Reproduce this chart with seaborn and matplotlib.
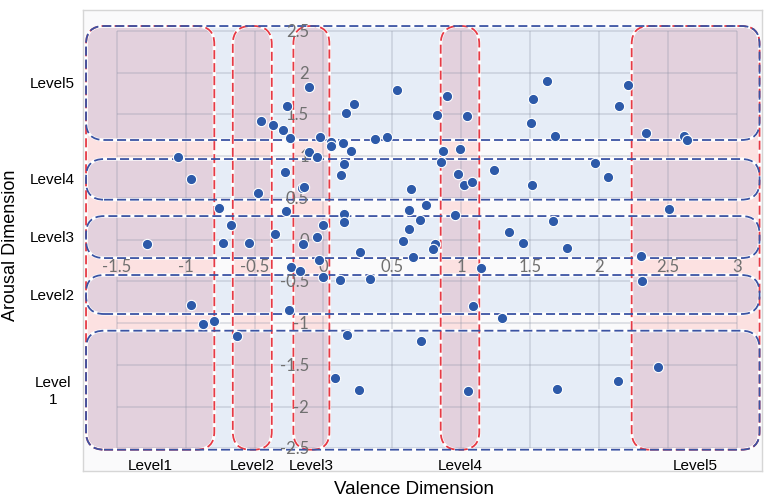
import matplotlib
matplotlib.use("Agg")
import matplotlib.pyplot as plt
from matplotlib.patches import FancyBboxPatch
import seaborn as sns

# ---------------- data ----------------
valence = [-0.107, -0.267, -0.451, -0.363, -0.291, -0.242, -0.107, -0.049, -0.027, 0.053,
           0.053, 0.145, 0.200, 0.151, 0.129, 0.166, 0.225, 0.536, 0.374, 0.463,
           -1.053, -0.963, -0.281, -0.472, -0.157, -0.138, 0.633, -0.755, -0.274, 0.149,
           0.149, -0.668, 0.000, -0.354, -0.049, -0.731, -0.540, -1.278, -0.146, 0.266,
           0.623, 0.745, 0.701, 0.623, 0.575, 0.897, 0.824, 1.042, 0.870, 0.991,
           0.856, 0.977, 1.018, 1.081, 1.240, 1.514, 0.955, 1.668, 1.344, 1.450,
           1.770, 0.810, 0.797, 1.620, 1.523, 1.506, 1.683, 2.212, 2.147, 2.339,
           2.619, 2.636, 1.973, 2.068, 2.510, 2.307, -0.235, -0.170, -0.029, 0.000,
           0.118, 0.336, 0.648, -0.963, -0.876, -0.796, -0.250, -0.627, 0.173, 0.710,
           0.086, 0.256, 1.144, 2.310, 1.088, 1.298, 2.426, 1.047, 1.697, 2.138]
arousal = [1.823, 1.595, 1.415, 1.371, 1.307, 1.216, 1.052, 0.985, 1.232, 1.172,
           1.124, 1.160, 1.064, 0.908, 0.776, 1.518, 1.626, 1.790, 1.201, 1.232,
           0.984, 0.728, 0.808, 0.560, 0.613, 0.625, 0.608, 0.381, 0.338, 0.305,
           0.213, 0.170, 0.170, 0.066, 0.034, -0.042, -0.042, -0.058, -0.054, -0.144,
           0.353, 0.413, 0.234, 0.126, -0.014, 1.719, 1.491, 1.475, 1.064, 1.080,
           0.928, 0.788, 0.656, 0.685, 0.836, 0.656, 0.293, 0.217, 0.096, -0.042,
           -0.102, -0.054, -0.114, 1.902, 1.686, 1.395, 1.244, 1.854, 1.595, 1.275,
           1.236, 1.195, 0.912, 0.745, 0.365, -0.193, -0.333, -0.373, -0.241, -0.453,
           -0.485, -0.473, -0.206, -0.781, -1.016, -0.980, -0.840, -1.152, -1.140, -1.212,
           -1.662, -1.802, -0.345, -0.501, -0.800, -0.940, -1.530, -1.818, -1.790, -1.698]

x_ticks = [-1.5, -1, -0.5, 0, 0.5, 1, 1.5, 2, 2.5, 3]
x_tick_labels = ["-1.5", "-1", "-0.5", "0", "0.5", "1", "1.5", "2", "2.5", "3"]
y_ticks = [2.5, 2, 1.5, 1, 0.5, 0, -0.5, -1, -1.5, -2, -2.5]
y_tick_labels = ["2.5", "2", "1.5", "1", "0.5", "0", "-0.5", "-1", "-1.5", "-2", "-2.5"]

valence_levels = ["Level1", "Level2", "Level3", "Level4", "Level5"]
valence_bounds = [(-1.723, -0.792), (-0.658, -0.375), (-0.218, 0.043), (0.851, 1.131), (2.237, 3.165)]
arousal_levels = ["Level5", "Level4", "Level3", "Level2", "Level\n1"]
arousal_bounds = [(1.192, 2.557), (0.477, 0.964), (-0.222, 0.281), (-0.892, -0.425), (-2.517, -1.092)]
band_x_extent = (-1.723, 3.165)
band_y_extent = (-2.517, 2.557)

# ---------------- style ----------------
C_BLUE_FILL = "#e6edf7"
C_PINK_FILL = "#fce1e1"
C_MAUVE = "#e3d1dd"
C_RED = "#e63a45"
C_NAVY = "#3b53a3"
C_DOT = "#2d5aa9"
C_TICK = "#707070"

FIG_W, FIG_H = 7.65, 5.02
fig = plt.figure(figsize=(FIG_W, FIG_H), dpi=100)
fig.patch.set_facecolor("white")
pos = [0.1085, 0.0598, 0.8876, 0.9183]
ax = fig.add_axes(pos)
xlim = (-1.745, 3.183)
ylim = (-2.772, 2.749)
ax.set_xlim(*xlim)
ax.set_ylim(*ylim)
ax.set_facecolor("#fafafb")
for s in ax.spines.values():
    s.set_color("#d6d6d6")
    s.set_linewidth(1.0)
ax.set_xticks([])
ax.set_yticks([])

sx = pos[2] * FIG_W * 100 / (xlim[1] - xlim[0])
sy = pos[3] * FIG_H * 100 / (ylim[1] - ylim[0])
aspect = sx / sy
RADIUS_PX = 18


def rbox(x0, x1, y0, y1, **kw):
    w, h = x1 - x0, y1 - y0
    r_px = min(RADIUS_PX, w * sx / 2 - 0.5, h * sy / 2 - 0.5)
    r = r_px / sx
    return FancyBboxPatch((x0, y0), w, h,
                          boxstyle=f"round,pad=0,rounding_size={r}",
                          mutation_aspect=aspect, transform=ax.transData, **kw)


# fills
for (y0, y1) in arousal_bounds:
    ax.add_patch(rbox(band_x_extent[0], band_x_extent[1], y0, y1,
                      facecolor=C_BLUE_FILL, edgecolor="none", zorder=1.0))
for (x0, x1) in valence_bounds:
    ax.add_patch(rbox(x0, x1, band_y_extent[0], band_y_extent[1],
                      facecolor=C_PINK_FILL, edgecolor="none", zorder=1.1))
for (x0, x1) in valence_bounds:
    for (y0, y1) in arousal_bounds:
        clip = rbox(band_x_extent[0], band_x_extent[1], y0, y1)
        p = rbox(x0, x1, band_y_extent[0], band_y_extent[1],
                 facecolor=C_MAUVE, edgecolor="none", zorder=1.2)
        ax.add_patch(p)
        p.set_clip_path(clip)

# grid
ax.vlines(x_ticks, min(y_ticks), max(y_ticks), colors="#8e94a6", alpha=0.3, lw=1.2, zorder=1.5)
ax.hlines(y_ticks, min(x_ticks), max(x_ticks), colors="#8e94a6", alpha=0.3, lw=1.2, zorder=1.5)

# outlines
DASH = (0, (5.0, 2.2))
for (y0, y1) in arousal_bounds:
    ax.add_patch(rbox(band_x_extent[0], band_x_extent[1], y0, y1,
                      fill=False, edgecolor="white", lw=2.3, zorder=2.0))
    ax.add_patch(rbox(band_x_extent[0], band_x_extent[1], y0, y1,
                      fill=False, edgecolor=C_NAVY, lw=1.3, linestyle=DASH, zorder=2.2))
for (x0, x1) in valence_bounds:
    ax.add_patch(rbox(x0, x1, band_y_extent[0], band_y_extent[1],
                      fill=False, edgecolor="white", lw=2.3, zorder=2.0))
    ax.add_patch(rbox(x0, x1, band_y_extent[0], band_y_extent[1],
                      fill=False, edgecolor=C_RED, lw=1.3, linestyle=DASH, zorder=2.1))

# in-plot tick labels
for xv, lab in zip(x_ticks, x_tick_labels):
    ax.text(xv, -0.317, lab, ha="center", va="center", fontsize=12,
            color=C_TICK, family=["Lato", "DejaVu Sans"], zorder=2.5)
for yv, lab in zip(y_ticks, y_tick_labels):
    ax.text(-0.105, yv, lab, ha="right", va="center", fontsize=12,
            color=C_TICK, family=["Lato", "DejaVu Sans"], zorder=2.5)

# scatter
sns.scatterplot(x=valence, y=arousal, ax=ax, color=C_DOT, s=55,
                edgecolor="white", linewidth=0.8, zorder=3, legend=False)
ax.set_xlabel("")
ax.set_ylabel("")
ax.set_xlim(*xlim)
ax.set_ylim(*ylim)

# level labels
for lab, (y0, y1) in zip(arousal_levels, arousal_bounds):
    ax.text(-1.965, (y0 + y1) / 2, lab, ha="center", va="center", multialignment="center",
            fontsize=11, color="black", family=["Liberation Sans", "DejaVu Sans"],
            linespacing=1.25, clip_on=False)
for lab, (x0, x1) in zip(valence_levels, valence_bounds):
    ax.text((x0 + x1) / 2, -2.70, lab, ha="center", va="center",
            fontsize=11, color="black", family=["Liberation Sans", "DejaVu Sans"], zorder=2.5)

fig.text(414 / 765, 1 - 490 / 502, "Valence Dimension", ha="center", va="center",
         fontsize=13.5, family=["Liberation Sans", "DejaVu Sans"])
fig.text(11 / 765, 1 - 245 / 502, "Arousal Dimension", ha="center", va="center",
         rotation=90, fontsize=13, family=["Liberation Sans", "DejaVu Sans"])

fig.savefig("out.png", dpi=100)
